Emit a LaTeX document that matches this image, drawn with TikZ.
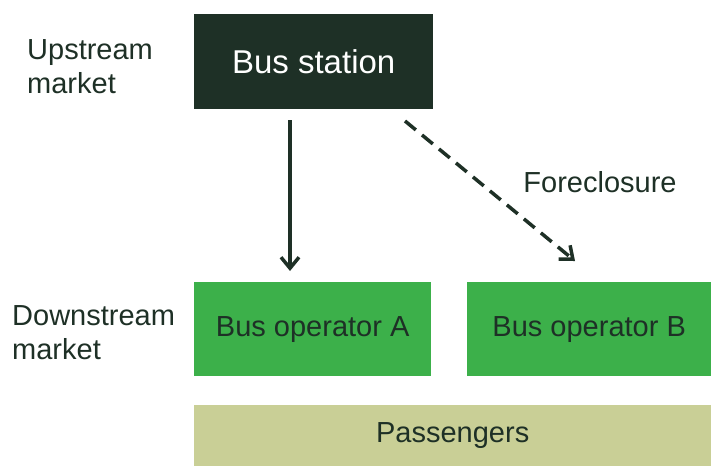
\documentclass[tikz,border=0pt]{standalone}
\usepackage{fontspec}
\setmainfont{Liberation Sans}
\usetikzlibrary{arrows.meta}
\definecolor{darkg}{HTML}{1E3026}
\definecolor{midg}{HTML}{3CB04A}
\definecolor{pale}{HTML}{C9CF96}
\begin{document}
\begin{tikzpicture}[x=1pt,y=-1pt,
  box/.style={draw=none,minimum height=#1,inner sep=0pt,anchor=north west},
  lbl/.style={text=darkg,font=\fontsize{29}{34}\selectfont,align=left,inner sep=0pt},
  conn/.style={draw=darkg,line width=3.5pt,-{Straight Barb[length=11pt,width=18pt,line width=3.5pt]}}]
\useasboundingbox (0,0) rectangle (711,466);
\node[box=95pt,fill=darkg,minimum width=239pt,text=white,font=\fontsize{33}{38}\selectfont] (bs) at (194,14) {Bus station};
\node[box=94pt,fill=midg,minimum width=237pt,lbl] (oa) at (194,282) {Bus operator A};
\node[box=94pt,fill=midg,minimum width=244pt,lbl] (ob) at (467,282) {Bus operator B};
\node[box=61pt,fill=pale,minimum width=517pt,lbl] (pa) at (194,405) {Passengers};
\node[lbl,anchor=west] (up) at (27,67) {Upstream\\market};
\node[lbl,anchor=west] (down) at (12,333) {Downstream\\market};
\node[lbl] (fc) at (600,182) {Foreclosure};
\coordinate (s1) at (290,120);
\coordinate (e1) at (290,271);
\coordinate (s2) at (405,121);
\coordinate (e2) at (575,261);
\draw[conn] (s1) -- (e1);
\draw[conn,dash pattern=on 14pt off 8pt] (s2) -- (e2);
\end{tikzpicture}
\end{document}
